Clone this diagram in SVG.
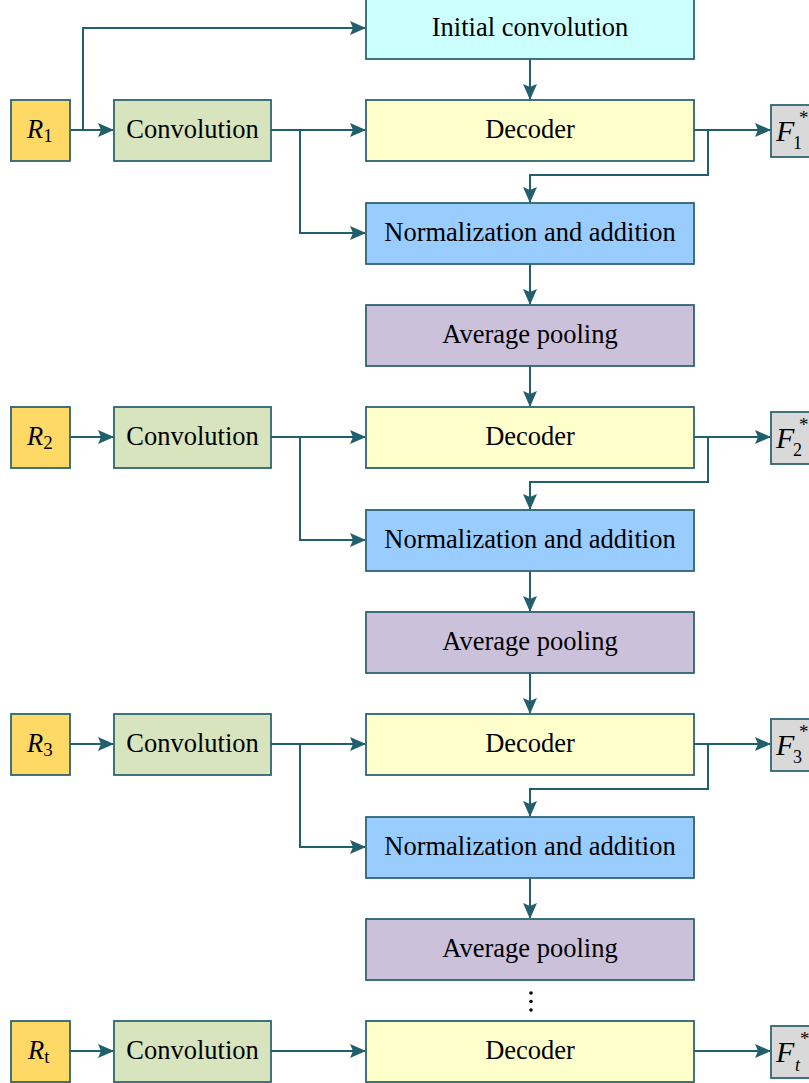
<svg xmlns="http://www.w3.org/2000/svg" width="809" height="1083" viewBox="0 0 809 1083">
<style>
.b{stroke:#2E6472;stroke-width:1.8}
.r{fill:#FFD966}.c{fill:#D7E4BD}.d{fill:#FFFFCC}.i{fill:#CCFFFF}.n{fill:#99CCFF}.p{fill:#CCC1DA}.f{fill:#D9D9D9}
text{font-family:"Liberation Serif","Times New Roman",serif;font-size:26.5px;fill:#000}
.t{text-anchor:middle}
.l{fill:none;stroke:#215F6D;stroke-width:2;marker-end:url(#a)}
.s{font-size:19px}
.F{font-size:30px;font-style:italic}
.x{font-size:18px}
.y{font-size:19px}
</style>
<defs>
<marker id="a" viewBox="0 0 16 14" refX="15" refY="7" markerWidth="16" markerHeight="14" markerUnits="userSpaceOnUse" orient="auto"><path d="M0,0 L16,7 L0,14 L3,7 Z" fill="#215F6D"/></marker>
</defs>
<g id="connectors">
<path class="l" d="M83,130 V28 H365"/>
<path class="l" d="M70,130 H113"/>
<path class="l" d="M530,59 V99"/>
<path class="l" d="M271,130 H365"/>
<path class="l" d="M300,130 V233 H365"/>
<path class="l" d="M694,130 H770"/>
<path class="l" d="M708,130 V175 H530 V202"/>
<path class="l" d="M530,264 V304"/>
<path class="l" d="M530,366 V406"/>
<path class="l" d="M70,437 H113"/>
<path class="l" d="M271,437 H365"/>
<path class="l" d="M300,437 V540 H365"/>
<path class="l" d="M694,437 H770"/>
<path class="l" d="M708,437 V482 H530 V509"/>
<path class="l" d="M530,571 V611"/>
<path class="l" d="M530,673 V713"/>
<path class="l" d="M70,744 H113"/>
<path class="l" d="M271,744 H365"/>
<path class="l" d="M300,744 V847 H365"/>
<path class="l" d="M694,744 H770"/>
<path class="l" d="M708,744 V789 H530 V816"/>
<path class="l" d="M530,878 V918"/>
<path class="l" d="M70,1051 H113"/>
<path class="l" d="M271,1051 H365"/>
<path class="l" d="M694,1051 H770"/>
</g>
<g id="initial"><rect class="b i" x="366" y="-3" width="328" height="62"/><text class="t" x="530" y="36">Initial convolution</text></g>

<g id="r1"><rect class="b r" x="11" y="100" width="59" height="61"/><text x="27" y="138"><tspan font-style="italic">R</tspan><tspan class="s" dy="4">1</tspan></text></g>
<g id="conv1"><rect class="b c" x="114" y="100" width="157" height="61"/><text class="t" x="192.5" y="138">Convolution</text></g>
<g id="dec1"><rect class="b d" x="366" y="100" width="328" height="61"/><text class="t" x="530" y="138">Decoder</text></g>
<g id="f1"><rect class="b f" x="771" y="105" width="42" height="52"/><text class="F" x="776" y="141">F</text><text class="x" x="793" y="149">1</text><text class="y" x="799" y="124">*</text></g>
<g id="norm1"><rect class="b n" x="366" y="203" width="328" height="61"/><text class="t" x="530" y="241">Normalization and addition</text></g>
<g id="pool1"><rect class="b p" x="366" y="305" width="328" height="61"/><text class="t" x="530" y="343">Average pooling</text></g>

<g id="r2"><rect class="b r" x="11" y="407" width="59" height="61"/><text x="27" y="445"><tspan font-style="italic">R</tspan><tspan class="s" dy="4">2</tspan></text></g>
<g id="conv2"><rect class="b c" x="114" y="407" width="157" height="61"/><text class="t" x="192.5" y="445">Convolution</text></g>
<g id="dec2"><rect class="b d" x="366" y="407" width="328" height="61"/><text class="t" x="530" y="445">Decoder</text></g>
<g id="f2"><rect class="b f" x="771" y="412" width="42" height="52"/><text class="F" x="776" y="448">F</text><text class="x" x="793" y="456">2</text><text class="y" x="799" y="431">*</text></g>
<g id="norm2"><rect class="b n" x="366" y="510" width="328" height="61"/><text class="t" x="530" y="548">Normalization and addition</text></g>
<g id="pool2"><rect class="b p" x="366" y="612" width="328" height="61"/><text class="t" x="530" y="650">Average pooling</text></g>

<g id="r3"><rect class="b r" x="11" y="714" width="59" height="61"/><text x="27" y="752"><tspan font-style="italic">R</tspan><tspan class="s" dy="4">3</tspan></text></g>
<g id="conv3"><rect class="b c" x="114" y="714" width="157" height="61"/><text class="t" x="192.5" y="752">Convolution</text></g>
<g id="dec3"><rect class="b d" x="366" y="714" width="328" height="61"/><text class="t" x="530" y="752">Decoder</text></g>
<g id="f3"><rect class="b f" x="771" y="719" width="42" height="52"/><text class="F" x="776" y="755">F</text><text class="x" x="793" y="763">3</text><text class="y" x="799" y="738">*</text></g>
<g id="norm3"><rect class="b n" x="366" y="817" width="328" height="61"/><text class="t" x="530" y="855">Normalization and addition</text></g>
<g id="pool3"><rect class="b p" x="366" y="919" width="328" height="61"/><text class="t" x="530" y="957">Average pooling</text></g>

<g id="dots"><circle cx="531" cy="993" r="1.8"/><circle cx="531" cy="1001.5" r="1.8"/><circle cx="531" cy="1010" r="1.8"/></g>

<g id="rt"><rect class="b r" x="11" y="1021" width="59" height="61"/><text x="28" y="1059"><tspan font-style="italic">R</tspan><tspan class="s" dy="4">t</tspan></text></g>
<g id="convt"><rect class="b c" x="114" y="1021" width="157" height="61"/><text class="t" x="192.5" y="1059">Convolution</text></g>
<g id="dect"><rect class="b d" x="366" y="1021" width="328" height="61"/><text class="t" x="530" y="1059">Decoder</text></g>
<g id="ft"><rect class="b f" x="771" y="1026" width="42" height="52"/><text class="F" x="776" y="1062">F</text><text class="x" x="795" y="1071" font-style="italic">t</text><text class="y" x="800" y="1045">*</text></g>
</svg>
